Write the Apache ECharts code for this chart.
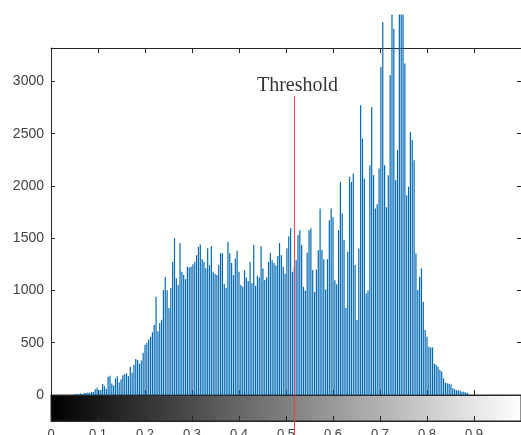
<!DOCTYPE html>
<html>
<head>
<meta charset="utf-8">
<script src="https://cdn.jsdelivr.net/npm/echarts@6/dist/echarts.min.js"></script>
<style>
    html, body { margin: 0; padding: 0; background: #fff; }
    #chart { width: 521px; height: 435px; }
</style>
</head>
<body>
<div id="chart"></div>
<script>
// imhist-style counts, one per gray level (0..255)
const levels = 256;
const counts = [
    0, 0, 0, 0, 0, 0, 0, 0, 0, 0, 0, 0, 0, 8, 12, 6,
    15, 10, 20, 18, 25, 22, 30, 28, 55, 70, 40, 50, 105, 85, 60, 175,
    185, 110, 90, 160, 180, 120, 150, 190, 200, 205, 180, 270, 215, 290, 344, 335,
    300, 330, 405, 480, 500, 530, 558, 600, 669, 940, 610, 688, 720, 1004, 1128, 1003,
    832, 1023, 1274, 1500, 1118, 1052, 1453, 1179, 1150, 1109, 1227, 1220, 1227, 1250, 1274, 1338,
    1418, 1440, 1300, 1274, 1213, 1405, 1243, 1424, 1179, 1160, 1147, 1243, 1357, 1357, 1061, 1023,
    1466, 1357, 1262, 1147, 1306, 1380, 1179, 1052, 1035, 1195, 1125, 1090, 1274, 1070, 1434, 1045,
    1140, 1125, 1424, 1210, 1100, 1125, 1274, 1360, 1290, 1262, 1240, 1330, 1453, 1338, 1227, 1160,
    1405, 1520, 1596, 1179, 1230, 1290, 1530, 1577, 1434, 1035, 1000, 1360, 1577, 1596, 1195, 987,
    1200, 1386, 1785, 1390, 1300, 1010, 1300, 1673, 1785, 1700, 1099, 1060, 1577, 2039, 1737, 1482,
    832, 1370, 2087, 2039, 2119, 1243, 717, 1402, 2772, 2454, 2071, 972, 1000, 2198, 2756, 2103,
    1785, 1825, 2167, 3139, 3569, 2198, 1796, 2103, 3059, 3640, 3505, 2055, 2342, 3640, 3640, 3640,
    3171, 1912, 1993, 2517, 2440, 2247, 1354, 1004, 1131, 1211, 892, 621, 558, 462, 455, 455,
    300, 287, 270, 239, 225, 159, 118, 112, 108, 100, 64, 55, 45, 45, 40, 32,
    30, 25, 20, 0, 0, 0, 0, 0, 0, 0, 0, 0, 0, 0, 0, 0,
    0, 0, 0, 0, 0, 0, 0, 0, 0, 0, 0, 0, 0, 0, 0, 0
];
const yMax = 3320;
const yStep = 500;
const xStep = 0.1;
const threshold = 0.518;
const thresholdTop = 2860;
const thresholdBottom = -400;
const thresholdText = 'Threshold';

const axisColor = '#262626';
const labelColor = '#404040';

const histData = counts.map((v, i) => [i / (levels - 1), v]);

function boxAxis(grid, pos, extra) {
    return Object.assign({
        gridIndex: grid,
        position: pos,
        type: 'value',
        axisLine: { show: true, onZero: false, lineStyle: { color: axisColor, width: 1 } },
        axisTick: { show: true, inside: true, length: 5, lineStyle: { color: axisColor } },
        axisLabel: { show: false },
        splitLine: { show: false }
    }, extra);
}

const chart = echarts.init(document.getElementById('chart'), null, { renderer: 'canvas' });
chart.setOption({
    animation: false,
    backgroundColor: '#fff',
    grid: [
        { left: 51, right: 0, top: 48, height: 347, outerBoundsMode: 'none' },
        {
            left: 51, right: 0, top: 395, height: 26, outerBoundsMode: 'none',
            show: true, borderColor: axisColor, borderWidth: 1,
            backgroundColor: new echarts.graphic.LinearGradient(0, 0, 1, 0, [
                { offset: 0, color: '#000' },
                { offset: 1, color: '#fff' }
            ])
        }
    ],
    xAxis: [
        boxAxis(0, 'bottom', { min: 0, max: 1, interval: xStep }),
        boxAxis(0, 'top', { min: 0, max: 1, interval: xStep }),
        boxAxis(1, 'bottom', {
            min: 0, max: 1, interval: xStep,
            axisLabel: {
                show: true, margin: 7, color: labelColor, fontSize: 13,
                fontFamily: 'Liberation Sans, Arial, sans-serif', showMaxLabel: false
            }
        })
    ],
    yAxis: [
        boxAxis(0, 'left', {
            min: 0, max: yMax, interval: yStep,
            axisTick: { show: true, inside: true, length: 4, lineStyle: { color: axisColor } },
            axisLabel: {
                show: true, margin: 7, color: labelColor, fontSize: 14,
                fontFamily: 'Liberation Sans, Arial, sans-serif', showMaxLabel: false,
                formatter: (v) => String(v)
            }
        }),
        boxAxis(0, 'right', {
            min: 0, max: yMax, interval: yStep,
            axisTick: { show: true, inside: true, length: 4, lineStyle: { color: axisColor } }
        }),
        { gridIndex: 1, type: 'value', min: 0, max: 1, show: false }
    ],
    series: [
        {
            type: 'bar',
            xAxisIndex: 0, yAxisIndex: 0,
            data: histData,
            barWidth: 1.2,
            clip: false,
            silent: true,
            itemStyle: { color: '#0068b4' }
        },
        {
            type: 'line',
            xAxisIndex: 0, yAxisIndex: 0,
            data: [[threshold, thresholdTop], [threshold, thresholdBottom]],
            symbol: 'none',
            clip: false,
            silent: true,
            z: 5,
            lineStyle: { color: '#ff3b3b', width: 1 }
        },
        {
            type: 'scatter',
            xAxisIndex: 0, yAxisIndex: 0,
            data: [[threshold, thresholdTop]],
            symbolSize: 1,
            silent: true,
            itemStyle: { color: 'rgba(0,0,0,0)' },
            label: {
                show: true, position: 'top', distance: 0, offset: [3, 0],
                formatter: thresholdText,
                color: '#000', fontSize: 20,
                fontFamily: 'Liberation Serif, Times New Roman, serif'
            }
        }
    ]
});
</script>
</body>
</html>
